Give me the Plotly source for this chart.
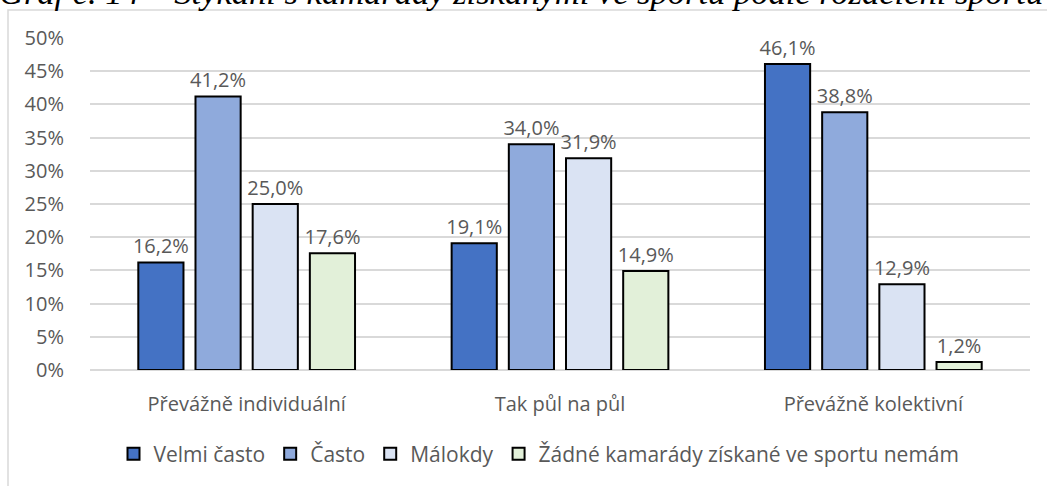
import plotly.graph_objects as go

categories = ["Převážně individuální", "Tak půl na půl", "Převážně kolektivní"]
series_names = ["Velmi často", "Často", "Málokdy", "Žádné kamarády získané ve sportu nemám"]
velmi_casto = [0.162, 0.191, 0.461]
casto = [0.412, 0.340, 0.388]
malokdy = [0.250, 0.319, 0.129]
zadne = [0.176, 0.149, 0.012]
series_values = [velmi_casto, casto, malokdy, zadne]
colors = ["#4472C4", "#8FAADC", "#DAE3F3", "#E2F0D9"]
title_text = "Graf č. 14 – Stýkání s kamarády získanými ve sportu podle rozdělení sportu"

FONT = "Open Sans"
FS = 20
GRAY = "#595959"

fig = go.Figure()
for name, vals, col in zip(series_names, series_values, colors):
    fig.add_trace(go.Bar(
        x=categories, y=vals, name=name,
        marker=dict(color=col, line=dict(color="black", width=2)),
        texttemplate="%{y:.1%}",
        textposition="outside", constraintext="none",
        textfont=dict(family=FONT, size=FS, color=GRAY),
        cliponaxis=False,
    ))

W, H = 1047, 486
L, R, T, B = 90, 17, 38, 116
pw, ph = W - L - R, H - T - B

def px_x(x):
    return (x - L) / pw

def px_y(y):
    return (H - B - y) / ph

fig.update_layout(
    width=W, height=H,
    margin=dict(l=L, r=R, t=T, b=B, autoexpand=False),
    paper_bgcolor="white", plot_bgcolor="white",
    separators=", ",
    barmode="group", bargap=0.27, bargroupgap=0.21,
    font=dict(family=FONT, size=FS, color=GRAY),
    showlegend=True,
    legend=dict(orientation="h", x=px_x(539), xanchor="center",
                y=px_y(454), yanchor="middle",
                font=dict(family=FONT, size=21, color=GRAY),
                itemwidth=30, traceorder="normal"),
    xaxis=dict(showgrid=False, showline=False, ticks="", ticklabelstandoff=20,
               tickfont=dict(family=FONT, size=FS, color=GRAY)),
    yaxis=dict(range=[0, 0.5], dtick=0.05, tickformat=".0%",
               showgrid=True, gridcolor="#D9D9D9", gridwidth=1.5,
               zeroline=True, zerolinecolor="#D9D9D9", zerolinewidth=1.5,
               showline=False, ticks="", ticklabelstandoff=25,
               tickfont=dict(family=FONT, size=FS, color=GRAY)),
    shapes=[dict(type="rect", xref="paper", yref="paper",
                 x0=px_x(8), x1=px_x(1070), y0=px_y(520), y1=px_y(10),
                 line=dict(color="#D9D9D9", width=1.5), fillcolor="rgba(0,0,0,0)",
                 layer="below")],
    annotations=[dict(text="<i>" + title_text + "</i>", xref="paper", yref="paper",
                      x=px_x(-3), xanchor="left", y=px_y(13), yanchor="bottom",
                      showarrow=False,
                      font=dict(family="Liberation Serif", size=34.5, color="black"))],
)

fig.write_html("out.html", config={"displayModeBar": False},
               post_script="document.body.style.margin='0';document.body.style.overflow='hidden';")
